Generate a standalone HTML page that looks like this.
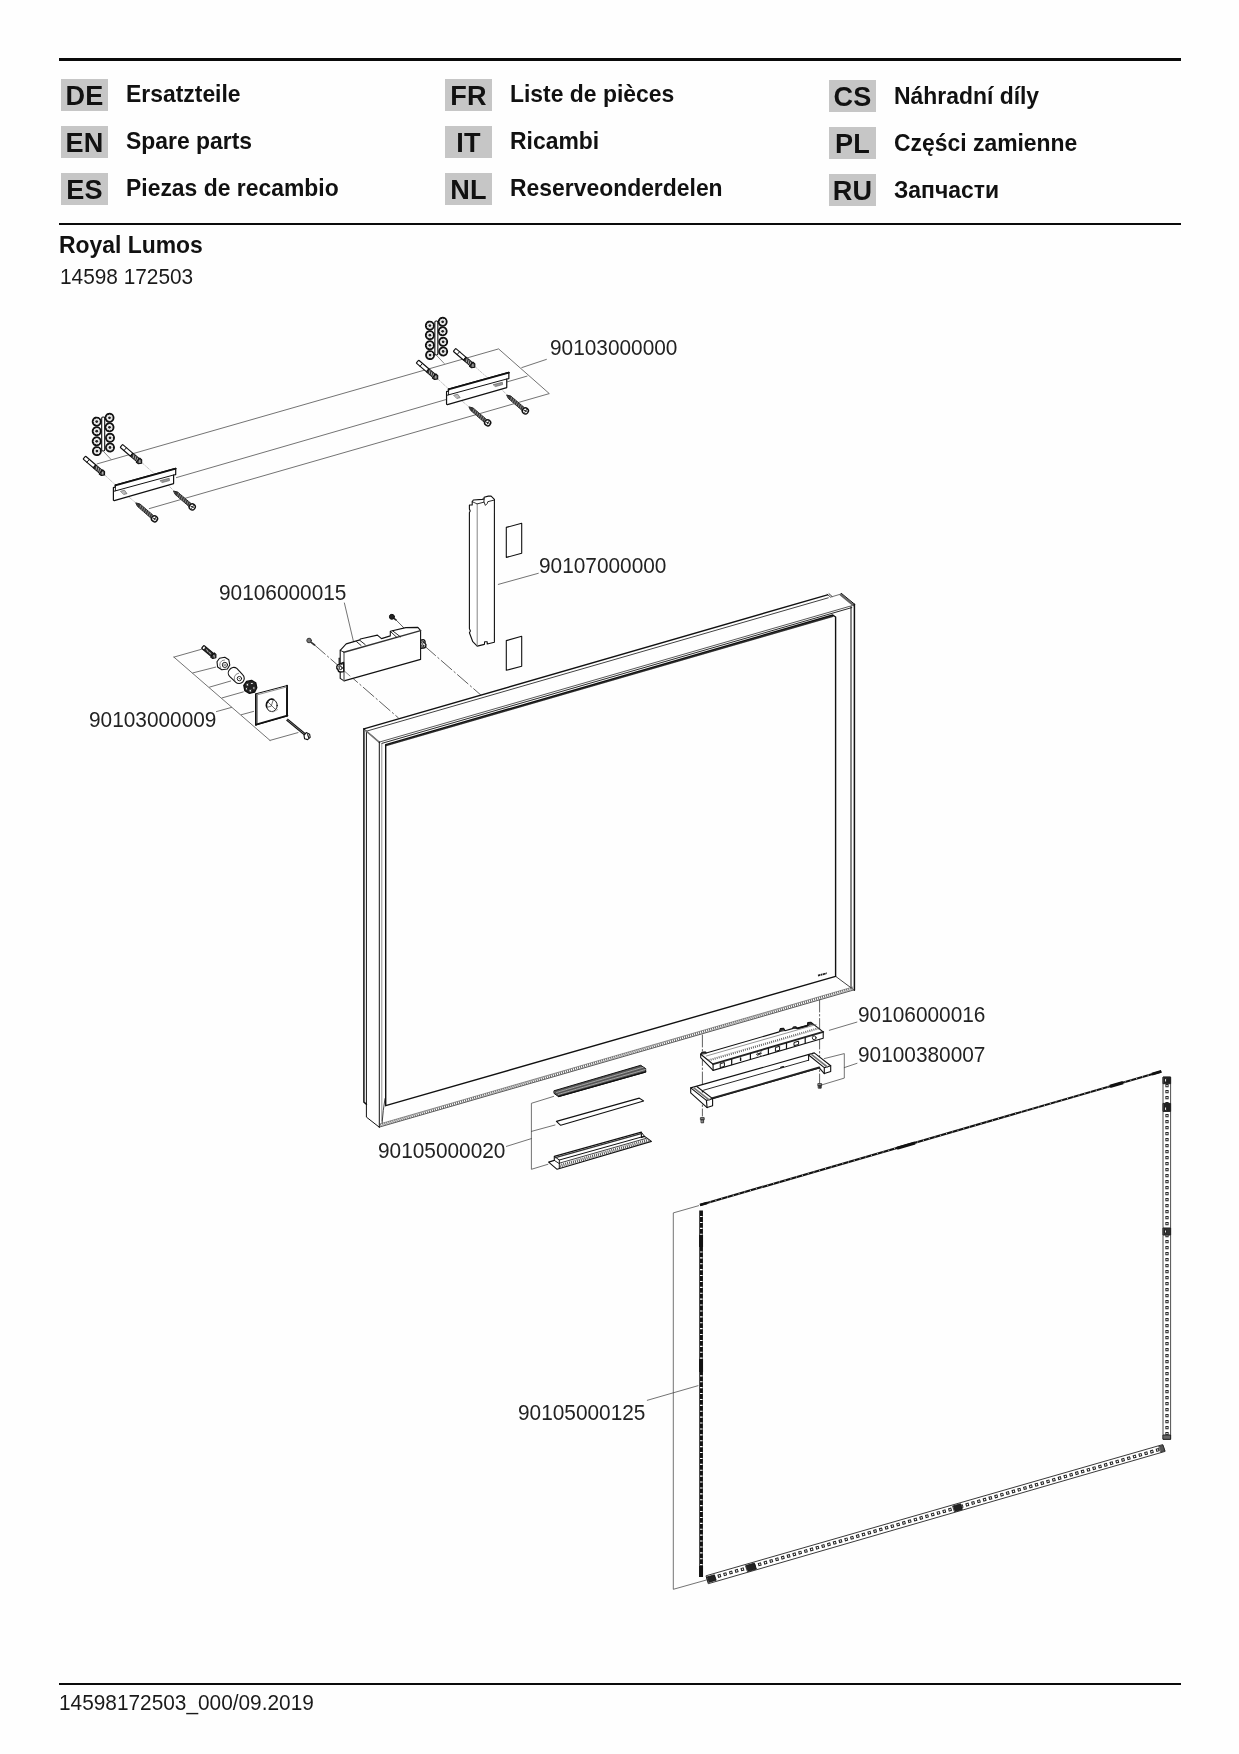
<!DOCTYPE html>
<html><head><meta charset="utf-8">
<style>
html,body{margin:0;padding:0;background:#fefefe;}
body{width:1239px;height:1754px;position:relative;overflow:hidden;font-family:"Liberation Sans",sans-serif;color:#111;}
.hl{position:absolute;left:59.3px;width:1122px;height:2.4px;background:#0a0a0a;}
.lb,.lt,.t,.pn{will-change:transform;}
.lt,.t,.pn{transform:scaleY(1.04);transform-origin:0 79%;}
.lb span{display:inline-block;transform:scaleY(1.04);transform-origin:50% 77%;}
.lb{position:absolute;width:46.8px;height:32.2px;background:#c6c6c6;font-weight:bold;font-size:27.08px;line-height:33.4px;text-align:center;color:#111;}
.lt{position:absolute;font-weight:bold;font-size:22.92px;line-height:26px;white-space:nowrap;color:#111;}
.t{position:absolute;white-space:nowrap;font-size:20.83px;line-height:24px;color:#1a1a1a;}
.pn{position:absolute;white-space:nowrap;font-size:20.83px;line-height:24px;color:#222;}
svg{position:absolute;left:0;top:0;}
</style></head><body>
<div class="hl" style="top:58.3px"></div>
<div class="hl" style="top:223.1px"></div>
<div class="hl" style="top:1683px"></div>

<div class="lb" style="left:61.2px;top:78.6px"><span>DE</span></div><div class="lt" style="left:126px;top:81px">Ersatzteile</div>
<div class="lb" style="left:61.2px;top:125.8px"><span>EN</span></div><div class="lt" style="left:126px;top:128px">Spare parts</div>
<div class="lb" style="left:61.2px;top:172.9px"><span>ES</span></div><div class="lt" style="left:126px;top:175px">Piezas de recambio</div>

<div class="lb" style="left:445.2px;top:78.6px"><span>FR</span></div><div class="lt" style="left:510px;top:81px">Liste de pièces</div>
<div class="lb" style="left:445.2px;top:125.8px"><span>IT</span></div><div class="lt" style="left:510px;top:128px">Ricambi</div>
<div class="lb" style="left:445.2px;top:172.9px"><span>NL</span></div><div class="lt" style="left:510px;top:175px">Reserveonderdelen</div>

<div class="lb" style="left:829px;top:80.1px"><span>CS</span></div><div class="lt" style="left:893.5px;top:82.5px">Náhradní díly</div>
<div class="lb" style="left:829px;top:127.3px"><span>PL</span></div><div class="lt" style="left:893.5px;top:129.7px">Części zamienne</div>
<div class="lb" style="left:829px;top:174.4px"><span>RU</span></div><div class="lt" style="left:893.5px;top:176.8px">Запчасти</div>

<div class="lt" style="left:59.3px;top:232px">Royal Lumos</div>
<div class="t" style="left:60px;top:265px">14598 172503</div>
<div class="t" style="left:59px;top:1691px">14598172503_000/09.2019</div>

<div class="pn" style="left:550px;top:336px">90103000000</div>
<div class="pn" style="left:539px;top:554px">90107000000</div>
<div class="pn" style="left:219px;top:581px">90106000015</div>
<div class="pn" style="left:89px;top:708px">90103000009</div>
<div class="pn" style="left:858px;top:1003px">90106000016</div>
<div class="pn" style="left:858px;top:1043px">90100380007</div>
<div class="pn" style="left:378px;top:1139px">90105000020</div>
<div class="pn" style="left:518px;top:1401px">90105000125</div>

<svg id="dwg" width="1239" height="1754" viewBox="0 0 1239 1754" fill="none" stroke="#222" stroke-width="1" stroke-linecap="round" stroke-linejoin="round">
<defs>
<!-- wall plug (dowel): local x along axis -->
<g id="dowel">
<rect x="0" y="-1.9" width="13.5" height="3.8" rx="0.6" fill="#fff" stroke="#111" stroke-width="1.15"/>
<path d="M5 -1.9V1.9" stroke="#111" stroke-width="0.9"/>
<rect x="13.5" y="-2" width="8.5" height="4" fill="#333" stroke="#111" stroke-width="1"/>
<path d="M15.3 -1.3L16.7 1.3M17.8 -1.3L19.2 1.3M20.2 -1.3L21.3 1.3" stroke="#ccc" stroke-width="0.7"/>
<path d="M22 -2.7L24.6 -2.5L26.6 0L24.6 2.5L22 2.7Z" fill="#555" stroke="#111" stroke-width="1.1"/>
<path d="M23.4 -0.8L24.8 0.6" stroke="#ddd" stroke-width="0.7"/>
</g>
<!-- wood screw: tip at 0, head centre at 24.2 -->
<g id="screw">
<path d="M0 0L3.4 -1.7L21.5 -1.8L21.5 1.8L3.4 1.7Z" fill="#3a3a3a" stroke="#222" stroke-width="0.9"/>
<path d="M5 -1.4L6 1.4M7.5 -1.4L8.5 1.4M10 -1.4L11 1.4M12.5 -1.4L13.5 1.4M15 -1.4L16 1.4M17.5 -1.4L18.5 1.4M20 -1.4L21 1.4" stroke="#aaa" stroke-width="0.6"/>
<circle cx="24.2" cy="0" r="3" fill="#fff" stroke="#111" stroke-width="1.4"/>
<path d="M22.7 0.4L25.6 -0.7M24.2 -1.7L24.7 1.5" stroke="#222" stroke-width="0.9"/>
</g>
<!-- serrated washer -->
<g id="washer">
<circle r="4.2" fill="#fff" stroke="#111" stroke-width="1.5" stroke-dasharray="2.1 0.55"/>
<circle r="3.7" fill="none" stroke="#111" stroke-width="1"/>
<circle r="2.6" fill="none" stroke="#bbb" stroke-width="0.5"/>
<circle r="1.4" fill="#222" stroke="none"/>
</g>
<!-- wall bracket group 1 -->
<g id="wallset">
<!-- washers -->
<rect x="101.7" y="417" width="3" height="34" rx="1.2" fill="#fff" stroke="#111" stroke-width="1.1"/>
<use href="#washer" x="96.7" y="421.6"/><use href="#washer" x="96.7" y="431.2"/><use href="#washer" x="96.7" y="441.3"/><use href="#washer" x="96.9" y="451.1"/>
<use href="#washer" x="109.5" y="417.8"/><use href="#washer" x="109.5" y="427.3"/><use href="#washer" x="110" y="437.8"/><use href="#washer" x="110" y="447.5"/>
<path d="M103.8 451.8L111 459.4" stroke="#555" stroke-width="0.7"/>
<!-- centre lines -->
<path d="M104.5 474.8L115.5 485M141.5 462.3L153.5 473M124 493L136 503M165 482L174 491" stroke="#999" stroke-width="0.6" stroke-dasharray="3 1.5 0.8 1.5"/>
<!-- bracket -->
<path d="M113.4 487.6L115.4 486.9L115.4 485L175.7 468.3L175.7 474.6L173.6 475L173.6 483.6L114.3 500.6L113.4 500.2Z" fill="#fff" stroke="#111" stroke-width="1.2"/>
<path d="M115.4 485.3L175.7 468.6" stroke="#111" stroke-width="1.9"/>
<path d="M113.6 491.3L115.6 490.8L173.6 475" stroke="#111" stroke-width="1"/>
<path d="M115.4 485V490.8" stroke="#111" stroke-width="0.9"/>
<path d="M120.8 491.2L124.5 490.2L127 493.6L124 494.4Z" fill="#bbb" stroke="#555" stroke-width="0.6"/>
<path d="M160.3 480.6L169.2 478.2L169.5 480.6L162.5 482.5Z" fill="#999" stroke="#555" stroke-width="0.6"/>
<!-- dowels -->
<use href="#dowel" transform="translate(84.3,457.6) rotate(40.6)"/>
<use href="#dowel" transform="translate(121.4,445.9) rotate(40.6)"/>
<!-- screws -->
<use href="#screw" transform="translate(136.2,503) rotate(40.8)"/>
<use href="#screw" transform="translate(173.9,491.1) rotate(40.8)"/>
</g>
</defs>

<defs>
<pattern id="hatch" width="2.4" height="2.4" patternUnits="userSpaceOnUse" patternTransform="rotate(-55)">
<rect width="2.4" height="2.4" fill="#fff"/><rect width="1" height="2.4" fill="#555"/>
</pattern>
<pattern id="led" width="6" height="8" patternUnits="userSpaceOnUse">
<rect width="6" height="8" fill="#fff"/>
<rect x="1.6" y="1.2" width="2.8" height="3.2" fill="#fff" stroke="#333" stroke-width="0.7"/>
<rect x="2.3" y="2" width="1.4" height="1.4" fill="#333"/>
</pattern>
</defs>

<!-- long leader lines for wall brackets -->
<g stroke="#444" stroke-width="0.75">
<path d="M97.1 463.9L498.6 348.9L549.3 393.6L149.3 508.6"/>
<path d="M176.4 477.6L527.1 376.1"/>
<path d="M521.8 367.6L546.4 359.4"/>
</g>
<use href="#wallset"/>
<use href="#wallset" transform="translate(333.15,-96)"/>

<!-- 90103000009 hook set -->
<g stroke="#444" stroke-width="0.75">
<path d="M173.9 657.1L270 740.4"/>
<path d="M173.9 657.1L201.4 649.3M192.9 672.9L215.7 667.1M209.6 687.1L230.7 681M222.1 697.9L243.3 691.9M241.4 714.7L253.6 711.4M270 740.4L298 732.6M216.4 711.6L231.5 707.4"/>
</g>
<!-- small dowel -->
<g transform="translate(202.6,646.8) rotate(39.5)">
<rect x="0" y="-2" width="12.8" height="4" rx="1" fill="#2a2a2a" stroke="#111" stroke-width="1"/>
<ellipse cx="1.6" cy="0" rx="0.9" ry="1.3" fill="#fff" stroke="none"/>
<path d="M5 -0.4L7.5 0.4M9 -0.2L10.5 0.5" stroke="#ccc" stroke-width="0.8"/>
<path d="M12.8 -2.8L15.2 -2.6L17.3 0L15.2 2.6L12.8 2.8Z" fill="#333" stroke="#111" stroke-width="1"/>
<path d="M14.2 -0.6L15.6 0.6" stroke="#ddd" stroke-width="0.8"/>
</g>
<!-- nut 1 -->
<g stroke="#111" fill="#fff">
<path d="M219.5 658.2L224.8 657.3L228.8 659.8L229.8 665L227.4 669L221.8 669.8L217.6 667L217 661.8Z" stroke-width="1.1"/>
<path d="M220.6 667.6A4.6 4.8 0 0 1 224.5 660" stroke="#555" stroke-width="0.7" fill="none"/>
<circle cx="224.9" cy="664.9" r="2.6" stroke-width="0.9"/>
<rect x="224.2" y="664.2" width="1.4" height="1.4" stroke-width="0.5" stroke="#333"/>
</g>
<!-- cylinder -->
<g stroke="#111" fill="#fff">
<path d="M229.6 669.6A5 5 0 0 1 236.8 668.4L242.6 674.6A5.1 5.1 0 0 1 235.6 682.2L229.6 676.4A5 5 0 0 1 229.6 669.6Z" stroke-width="1.1"/>
<path d="M236 682.4A5 5.2 0 0 1 238.6 673.2" stroke="#555" stroke-width="0.7" fill="none"/>
<circle cx="239.4" cy="678.6" r="2.2" stroke-width="0.9"/>
<circle cx="239.4" cy="678.6" r="0.7" fill="#555" stroke="none"/>
</g>
<!-- hex nut -->
<g>
<path d="M246.6 681.4L251.6 680.4L255.8 682.8L256.8 687.8L254.6 692.2L249.4 693.4L244.8 690.6L243.8 685.4Z" fill="#222" stroke="#111" stroke-width="1.3"/>
<ellipse cx="247.5" cy="684.8" rx="1.5" ry="1.2" fill="#fff"/><ellipse cx="252" cy="683.6" rx="1.5" ry="1.1" fill="#fff"/>
<ellipse cx="254" cy="688" rx="1.2" ry="1.6" fill="#fff"/><ellipse cx="250.4" cy="690.8" rx="1.5" ry="1.2" fill="#fff"/>
<ellipse cx="246.6" cy="688.8" rx="1" ry="1.3" fill="#fff"/>
</g>
<!-- plate -->
<g stroke="#111">
<path d="M255.9 693.8L287.3 685.5L287.3 715.9L255.9 724.9Z" fill="#fff" stroke-width="1"/>
<path d="M255.9 694V724.8" stroke-width="1.7"/>
<path d="M257.3 694.6V723.6" stroke="#777" stroke-width="1"/>
<path d="M256 724.6L287.3 715.6" stroke-width="2"/>
<path d="M287 685.8V715.8" stroke-width="1.9"/>
<path d="M256.6 695L286.6 687" stroke="#777" stroke-width="0.8"/>
<ellipse cx="271.8" cy="705.4" rx="5.4" ry="6.2" fill="#fff" stroke-width="1"/>
<path d="M266.6 706.8A5.4 6.2 0 0 1 273.5 699.4" stroke-width="1.6" fill="none"/>
<path d="M268 702L275.5 709.5M273.3 699.6L271.2 706.2L266.8 707.4" stroke="#333" stroke-width="0.7" fill="none"/>
<path d="M269 710.5L273 712L277.6 709.6" stroke="#888" stroke-width="0.7" fill="none"/>
</g>
<!-- bolt -->
<g>
<path d="M286.9 719.4L306.6 735.8" stroke="#111" stroke-width="2.6" stroke-linecap="butt"/>
<path d="M287.6 720L306 735.3" stroke="#999" stroke-width="0.7"/>
<path d="M306.2 732.6L309.6 734.2L310.2 737.4L307.6 739.6L304.6 738.8L304 735.4Z" fill="#fff" stroke="#111" stroke-width="1.1"/>
<path d="M307.6 734.6L308.8 737.8" stroke="#111" stroke-width="1.1"/>
</g>

<!-- 90106000015 driver box -->
<g stroke="#444" stroke-width="0.85" stroke-dasharray="14 3 1.5 3">
<path d="M314.6 645L398.4 717.9"/>
<path d="M395.9 619.8L404.2 628.2"/>
<path d="M425 646.4L480.5 694.7"/>
</g>
<path d="M344.4 603L353.5 641.6" stroke="#444" stroke-width="0.75"/>
<g stroke="#111" stroke-width="1.1" fill="#fff">
<!-- right ear -->
<path d="M420.6 640.2L423.2 639.6A2.2 2.4 0 0 1 424.8 643.2A2.4 2.6 0 0 1 423.2 648L420.6 648.4Z" stroke-width="1.4"/>
<circle cx="422.8" cy="642.2" r="1.1" stroke-width="0.9"/>
<circle cx="422.8" cy="645.9" r="1.1" stroke-width="0.9"/>
<!-- body -->
<path d="M340.2 650.3L346.2 643.9L359.9 639.9L360.3 639L377.4 635.1L381.5 638.6L390.3 635.9L390.3 631.3L405.8 627.6L417.9 627.4L420.6 630.6L420.6 659.4L344 680.9L340.2 678.4Z"/>
<path d="M344 652.2L420.6 630.6" stroke-width="1.5" stroke="#333"/>
<path d="M344 652.2V680.7" stroke="#666" stroke-width="1.3"/>
<path d="M340.2 650.3L344 652.2" stroke-width="0.9"/>
<path d="M356.5 641.6L361 645.4M359.9 640.4L365.2 644.6M390.3 631.3L396.8 637.4M392.6 630.8L400.5 636.9" stroke-width="0.9" fill="none"/>
<!-- left ear -->
<path d="M343.6 662.4L339 664.4A2.6 2.8 0 0 0 338 669.6A2.6 2.6 0 0 0 340.4 672L343.8 671.6Z" stroke-width="1.4"/>
<circle cx="340.6" cy="668" r="1.6" stroke-width="1"/>
<path d="M338.2 666.4L343.4 663.6" stroke-width="0.8"/>
<path d="M339.2 658.2V663.8" stroke-width="1.2"/>
</g>
<!-- small screws -->
<g>
<path d="M310.2 641.6L314.6 645" stroke="#333" stroke-width="1.6"/>
<circle cx="309.1" cy="640.5" r="2.3" fill="#777" stroke="#333" stroke-width="1"/>
<path d="M392.8 617.6L396 619.9" stroke="#222" stroke-width="1.6"/>
<circle cx="391.9" cy="616.8" r="2.5" fill="#222" stroke="#111" stroke-width="1"/>
</g>
<path d="M345 671.6L350 676" stroke="#555" stroke-width="0.7"/>

<!-- 90107000000 vertical cover + pads -->
<path d="M498.3 584.4L538.3 573.3" stroke="#444" stroke-width="0.75"/>
<g stroke="#111" stroke-width="1.1" fill="#fff">
<path d="M469.4 505L472.2 505L472.2 501.7L473.3 500L482.2 499.4L484.1 498.9L484.1 497.2L488.3 496.1L491.1 496.1L494.4 499.4L494.4 642.2L487.2 644L487.2 641.8L484.6 641.8L484.4 644.4L477.2 646.1L472.8 641.7L469.4 632.8L470.4 631L469.4 628.6L469.4 512.4L470.2 511L469.4 509Z"/>
<path d="M477.2 503.9L483.9 502.2L484.1 498.9M484.1 502.2L485.4 505.4L487.3 503.4L487.8 501.7L494.4 500" fill="none" stroke-width="0.9"/>
<path d="M472.2 501.7L477.2 503.9" fill="none" stroke-width="0.8"/>
<path d="M477.2 503.9V646" stroke="#777" stroke-width="0.9"/>
<path d="M506.3 527.4L521.7 523.3L521.7 553.3L506.3 557.4Z"/>
<path d="M506.3 640.6L521.7 636.3L521.7 666.3L506.3 670.3Z"/>
</g>

<!-- main mirror frame -->
<g stroke="#111" fill="none">
<!-- outer top edge -->
<path d="M363.9 728.9L827.5 594.9" stroke-width="1.5"/>
<path d="M366.4 731.2L828.3 597.8" stroke-width="0.8"/>
<path d="M827.2 594.2L830.6 597.2M829 593.7L832 596.4" stroke-width="0.8"/>
<path d="M831.4 596.9L841.1 594" stroke-width="0.6"/>
<path d="M840.6 594.6L853.4 605.2" stroke="#666" stroke-width="2.2"/>
<path d="M841.4 593.4L854.6 604.2" stroke-width="1"/>
<!-- right outer -->
<path d="M854.4 604.3V990.2" stroke-width="1.5"/>
<path d="M851 607V987.6" stroke="#888" stroke-width="2"/>
<!-- left outer -->
<path d="M363.9 728.9V1102.1L366.4 1104.3" stroke-width="1.5"/>
<path d="M366.4 731.2V1117.1L379.3 1127.2" stroke-width="1"/>
<!-- left inner -->
<path d="M363.9 728.9L379.3 742.1" stroke-width="0.9"/>
<path d="M365.4 730.4L379.4 742.4" stroke="#777" stroke-width="1.6"/>
<path d="M379.3 742.1V1127.1" stroke-width="1"/>
<path d="M381.8 743.4V1121" stroke="#888" stroke-width="0.9"/>
<path d="M385 1098.6Q383 1110 382.1 1122.9" stroke-width="0.8"/>
<!-- top inner lines -->
<path d="M379.3 742.1L851.8 605.7" stroke-width="0.7"/>
<path d="M382.1 743.3L851.8 607.6" stroke-width="0.9"/>
<!-- inner mirror opening -->
<path d="M385.7 745.6L832.8 616.2" stroke="#333" stroke-width="1.6" stroke-dasharray="1.3 0.5"/>
<path d="M385.7 744.6L832.8 615L835.6 617V976.4L385.7 1105.7Z" stroke-width="1.4"/>
<!-- bottom -->
<path d="M835.7 976.4L853.2 989.4" stroke-width="0.8"/>
<path d="M379.3 1127.1L853.6 990" stroke-width="0.7"/>
<path d="M380 1123.9L852.6 987.1" stroke="#444" stroke-width="0.6"/>
<path d="M380.4 1125.2L852.8 988.4" stroke="#666" stroke-width="2.6" stroke-dasharray="1 1.1" stroke-linecap="butt"/>
</g>
<path d="M818 975.6L826.8 973.2" stroke="#222" stroke-width="1.8" stroke-linecap="butt" stroke-dasharray="2.4 0.5 1.6 0.5 3 0.5"/>

<!-- vertical centre lines -->
<g stroke="#444" stroke-width="0.85" stroke-dasharray="12 2.5 1.5 2.5">
<path d="M702.4 1035V1116"/>
<path d="M819.6 1000V1083"/>
</g>
<g stroke="#444" stroke-width="0.75" fill="none">
<path d="M829.3 1030.3L856.9 1022.1"/>
<path d="M824.3 1058.6L844.3 1053.6V1078.1L821.4 1085M844.3 1067.6L857 1063.3"/>
</g>
<!-- 90100380007 bracket -->
<g stroke="#111" stroke-width="1.1" fill="#fff">
<path d="M690.7 1087.9L814.3 1052.9L830.7 1065.7L830.7 1071.4L824.3 1073.6L819.3 1067.9L712.6 1098.6L712.6 1105.7L707.1 1107.6L690.7 1092.9Z"/>
<path d="M712.4 1098.2L819.3 1067.5" stroke-width="1.9" stroke="#222"/>
<path d="M697.1 1086.7L712.6 1098.6M690.7 1087.9L706.4 1100.4L707.1 1107.6M706.4 1100.4L712.6 1098.6" fill="none"/>
<path d="M703.6 1090.2L808.6 1060.2" fill="none" stroke-width="0.9"/>
<path d="M808.6 1055L824.3 1067.6L824.3 1073.6M824.3 1067.6L830.7 1065.7M808.6 1055V1060.2" fill="none"/>
<path d="M693.8 1087.8L709.2 1099.8M811.4 1054.4L827.4 1067" stroke="#777" stroke-width="1.6" fill="none"/>
<path d="M780.8 1067.4L783.4 1066.6" stroke-width="1.4"/>
<circle cx="702.6" cy="1091.6" r="0.9" fill="#111" stroke="none"/>
</g>
<!-- small screws -->
<g stroke="#222" fill="#888" stroke-width="0.8">
<rect x="700.8" y="1117.6" width="3.4" height="2.2"/><rect x="701.4" y="1119.8" width="2.2" height="3"/>
<rect x="818.2" y="1083.6" width="3.4" height="2.2"/><rect x="818.6" y="1085.8" width="2.6" height="2.4" fill="#444"/>
</g>
<!-- 90106000016 switch bar -->
<g stroke="#111" stroke-width="1.1" fill="#fff">
<path d="M700.7 1054.2L702 1052.2L705.6 1052L706.3 1053L779.2 1031.9L780.4 1028.6L783.6 1028.2L785 1030.8L792.4 1028.6L793.4 1027L796 1026.8L797.4 1028.4L807.4 1025.6L807.8 1022.6L810.8 1022.3L823.2 1031.9L823.2 1038.2L713.1 1070.4L700.7 1057.6Z"/>
<path d="M700.7 1054.2L713.1 1064.2V1070.4" fill="none"/>
<path d="M713.1 1064.2L823.2 1031.9" stroke="#222" stroke-width="1.9"/>
<path d="M708.6 1060.4L818.8 1028.2" stroke="#666" stroke-width="2.2" stroke-dasharray="1 1.1" stroke-linecap="butt"/>
<path d="M706.3 1056L816 1024.6" stroke="#666" stroke-width="0.7"/>
<path d="M797.4 1028.4L807.4 1025.6" stroke-width="1.8"/>
<path d="M780 1031.2L780.6 1029L783.4 1028.6L784.6 1030.2Z M793 1028.2L793.6 1027.2L795.8 1027L796.8 1028.2Z M807.6 1025.4L808 1022.8L810.6 1022.6L812.4 1024Z M701 1054L702.2 1052.4L705.4 1052.2L706 1053.2Z" fill="#333" stroke-width="0.8"/>
<path d="M731.7 1059V1064.6M750.4 1053.6V1059.2M768.4 1048.4V1054M786.5 1043.2V1048.6M805.2 1037.8V1043.2" stroke-width="1.2"/>
</g>
<g stroke="#111" stroke-width="1" fill="none">
<path d="M720.6 1063.6L724.4 1062.5V1066.4L720.6 1067.5Z"/>
<path d="M740.6 1058V1060.4" stroke-width="1.4"/>
<path d="M757 1052.6L761 1055.4M761 1051.6L757.4 1056M756.4 1054.4L761.6 1053.2" stroke-width="0.8"/>
<path d="M775.8 1047.4L779.6 1046.3V1050.2L775.8 1051.3Z"/>
<path d="M794.4 1042.4L798.6 1041.2V1044.4L794.4 1045.6Z"/>
<circle cx="814.2" cy="1037.8" r="1.9" stroke-width="0.9"/>
</g>

<!-- 90105000020 three strips -->
<g stroke="#444" stroke-width="0.75" fill="none">
<path d="M553.6 1096.4L531.4 1103.3V1169.3L547.9 1164.3M531.4 1131.4L555 1125M506.4 1146.4L531.4 1138.6"/>
</g>
<g stroke="#111" stroke-width="1" fill="#fff">
<path d="M554.3 1090.7L640.7 1065.3L645.7 1068.6L645.7 1072.1L558.6 1096.7L554.3 1093.6Z" fill="#555"/>
<path d="M556.6 1092.4L643.2 1067.2M558.4 1094.4L645.2 1069.6" stroke="#bbb" stroke-width="0.8" stroke-dasharray="1.6 0.8"/>
<path d="M558.6 1096.4L645.7 1071.8" stroke="#111" stroke-width="1.3"/>
<path d="M556.4 1121.4L639.3 1098.1L643.6 1101L560.7 1125.3Z" stroke-width="1.1"/>
<!-- profile -->
<path d="M548.6 1162.1L554.3 1160.4L554.3 1156.4L641.4 1132.1L641.4 1137.4L644.6 1136.4L651.4 1141.4L557.1 1169.3Z" stroke-width="1.1"/>
<path d="M554.3 1156.4L559.3 1160L644.4 1136.2L641.4 1132.4" fill="none" stroke-width="1"/>
<path d="M559.3 1160V1168.4" fill="none" stroke-width="1"/>
<path d="M554.3 1160.4L559.3 1163.6" fill="none" stroke-width="0.9"/>
<path d="M555.4 1157.6L642 1133.4" stroke="#333" stroke-width="1.5"/>
<path d="M559.6 1166L648.6 1140.2" stroke="#555" stroke-width="3.4" stroke-dasharray="1 1" stroke-linecap="butt"/>
<path d="M559.3 1163.2L646 1138.4" stroke="#111" stroke-width="0.8"/>
</g>

<!-- 90105000125 LED strips -->
<g stroke="#444" stroke-width="0.75" fill="none">
<path d="M698.6 1205.7L673.3 1212.9V1589.3L706.4 1580M647.3 1400.3L698 1385.7"/>
</g>
<!-- top strip (dark) -->
<path d="M700 1205L1161.3 1071.4" stroke="#111" stroke-width="2.1" stroke-linecap="butt"/>
<path d="M704 1203.85L1160 1071.8" stroke="#fff" stroke-width="0.9" stroke-dasharray="0.9 5.1" stroke-linecap="butt"/>
<path d="M1110 1086.4L1123 1082.6M897 1148.2L915 1143" stroke="#111" stroke-width="3.2" stroke-linecap="butt"/>
<path d="M700 1205L707 1203M1152 1074.1L1161.3 1071.4" stroke="#111" stroke-width="2.7" stroke-linecap="butt"/>
<!-- left strip (dark) -->
<path d="M701.1 1210.5V1577" stroke="#111" stroke-width="3.7" stroke-linecap="butt"/>
<path d="M701.3 1216V1574" stroke="#fff" stroke-width="2.5" stroke-dasharray="1.1 4.8" stroke-linecap="butt"/>
<path d="M701.1 1235V1247M701.1 1359V1372M701.1 1566V1577" stroke="#111" stroke-width="3.9" stroke-linecap="butt"/>
<!-- right strip -->
<g>
<rect x="1163.4" y="1077.1" width="7.2" height="362.2" fill="#fff" stroke="#222" stroke-width="0.8"/>
<path d="M1167 1084V1437" stroke="#222" stroke-width="3.2" stroke-dasharray="3.2 2.8" stroke-linecap="butt"/>
<path d="M1167 1084.9V1437" stroke="#fff" stroke-width="1.3" stroke-dasharray="1.3 4.7" stroke-linecap="butt"/>
<rect x="1163.4" y="1077.1" width="7.2" height="6.6" fill="#222"/><rect x="1165" y="1078.6" width="1.6" height="3.4" fill="#fff"/>
<rect x="1163.4" y="1103.4" width="7.2" height="8" fill="#222"/><rect x="1165" y="1107" width="1.6" height="3.4" fill="#fff"/>
<rect x="1163.4" y="1228" width="7.2" height="7" fill="#333"/><rect x="1165" y="1230" width="1.6" height="3" fill="#fff"/>
<rect x="1163.4" y="1435" width="7.2" height="4.3" fill="#666"/>
</g>
<!-- bottom strip -->
<g>
<path d="M706.4 1575.7L1162.7 1444.6L1165.1 1451.4L708.6 1583.6Z" fill="#fff" stroke="#222" stroke-width="0.9"/>
<path d="M712 1578L1163 1448.4" stroke="#222" stroke-width="3.3" stroke-dasharray="3.3 2.7" stroke-linecap="butt"/>
<path d="M713 1577.7L1163 1448.4" stroke="#fff" stroke-width="1.3" stroke-dasharray="1.3 4.7" stroke-linecap="butt"/>
<path d="M706.8 1577L714.4 1574.8L716.2 1580.2L708.8 1582.4Z" fill="#222" stroke="#111" stroke-width="0.8"/>
<path d="M745.8 1565.6L754.4 1563.1L756.4 1569L747.8 1571.5Z" fill="#222" stroke="#111" stroke-width="0.8"/>
<path d="M953 1506L960.6 1503.8L962.4 1509.4L954.8 1511.6Z" fill="#222" stroke="#111" stroke-width="0.8"/>
<path d="M1159 1446.4L1163 1445.2L1164.8 1450.8L1161 1452Z" fill="#555" stroke="#111" stroke-width="0.6"/>
</g>


</svg>
</body></html>
